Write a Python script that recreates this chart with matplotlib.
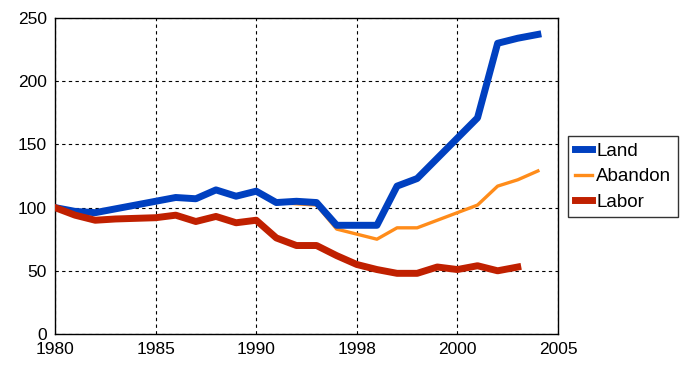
import matplotlib
matplotlib.use("Agg")
import matplotlib.pyplot as plt

plt.rcParams['font.family'] = ['Liberation Sans', 'DejaVu Sans']

years_land = list(range(1980, 2005))
land = [100, 97, 96, 99, 102, 105, 108, 107, 114, 109, 113, 104, 105, 104,
        86, 86, 86, 117, 123, 139, 155, 171, 230, 234, 237]
abandon = [100, 97, 96, 99, 102, 105, 108, 107, 114, 109, 113, 104, 103, 102,
           83, 79, 75, 84, 84, 90, 96, 102, 117, 122, 129]
years_labor = list(range(1980, 2004))
labor = [100, 94, 90, 91, 91.5, 92, 94, 89, 93, 88, 90, 76, 70, 70,
         62, 55, 51, 48, 48, 53, 51, 54, 50, 53]

xtick_pos = [1980, 1985, 1990, 1995, 2000, 2005]
xtick_labels = ['1980', '1985', '1990', '1998', '2000', '2005']
ytick_pos = [0, 50, 100, 150, 200, 250]

fig = plt.figure(figsize=(6.82, 3.65), dpi=100)
ax = fig.add_axes([55/682, 31/365, 503/682, 316/365])

ax.plot(years_land, land, color='#0040C0', lw=5.0, label='Land', zorder=3)
ax.plot(years_land, abandon, color='#FF8C1A', lw=2.4, label='Abandon', zorder=2)
ax.plot(years_labor, labor, color='#C02000', lw=5.0, label='Labor', zorder=3)

ax.set_xlim(1980, 2005)
ax.set_ylim(0, 250)
ax.set_xticks(xtick_pos)
ax.set_xticklabels(xtick_labels)
ax.set_yticks(ytick_pos)
ax.tick_params(length=0, labelsize=12.5, colors='black', pad=6)
ax.grid(True, color='black', linestyle=(0, (3, 3)), linewidth=0.8)
for s in ax.spines.values():
    s.set_color('black')
    s.set_linewidth(1.0)

leg = fig.legend(loc='upper left', bbox_to_anchor=(568/682, 1 - 136/365),
                 fontsize=13.5, frameon=True, fancybox=False, edgecolor='black',
                 handlelength=0.95, handletextpad=0.2, borderpad=0.35,
                 labelspacing=0.45, borderaxespad=0)
leg.get_frame().set_linewidth(1.0)

fig.savefig('out.png', dpi=100)
